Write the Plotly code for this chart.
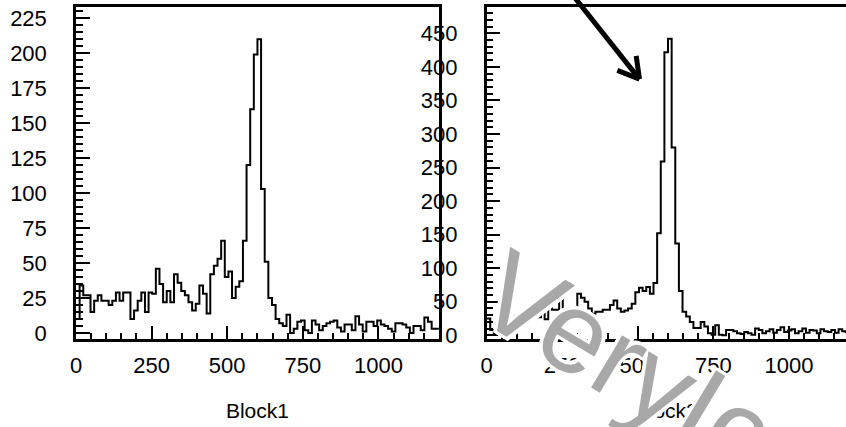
import plotly.graph_objects as go

# Histogram contents: 100 bins of width 12 over [0, 1200]
bin_width = 12
n_bins = 100
block1_counts = [
    10, 34, 27, 27, 15, 23, 27, 23, 23, 20,
    23, 29, 23, 29, 29, 10, 16, 23, 29, 15,
    29, 28, 46, 35, 22, 30, 22, 42, 36, 30,
    27, 22, 16, 21, 34, 28, 14, 42, 48, 53,
    66, 40, 44, 25, 33, 37, 66, 120, 160, 199,
    210, 103, 51, 25, 20, 10, 7, 5, 13, 0,
    3, 8, 9, 2, 0, 9, 6, 2, 5, 7,
    8, 9, 4, 1, 6, 6, 2, 12, 6, 1,
    8, 8, 5, 9, 6, 5, 3, 1, 7, 7,
    6, 4, 0, 5, 5, 2, 11, 8, 3, 3,
]
block2_counts = [
    25, 8, 3, 20, 28, 35, 30, 28, 30, 33,
    32, 33, 35, 35, 27, 40, 24, 47, 38, 38,
    57, 20, 30, 28, 40, 62, 56, 50, 40, 32,
    35, 35, 38, 38, 45, 52, 40, 35, 37, 40,
    47, 64, 71, 66, 72, 62, 78, 152, 259, 422,
    442, 280, 137, 66, 35, 28, 20, 11, 11, 20,
    13, 3, 1, 15, 1, 0, 8, 8, 6, 3,
    2, 5, 3, 1, 10, 8, 3, 6, 9, 4,
    8, 12, 5, 7, 9, 3, 6, 10, 4, 8,
    7, 3, 9, 6, 5, 8, 4, 9, 6, 5,
]
x_tick_values = [0, 250, 500, 750, 1000]
block1_y_ticks = [0, 25, 50, 75, 100, 125, 150, 175, 200, 225]
block2_y_ticks = [0, 50, 100, 150, 200, 250, 300, 350, 400, 450]
panel_titles = ["Block1", "Block2"]
watermark_text = "VeryIcon"

W, H = 846, 427
edges = [i * bin_width for i in range(n_bins + 1)]


def step_trace(counts, xa, ya):
    return go.Scatter(
        x=edges, y=counts + [counts[-1]],
        mode="lines", line=dict(shape="hv", color="black", width=2),
        xaxis=xa, yaxis=ya, hoverinfo="skip", showlegend=False,
    )


fig = go.Figure()
fig.add_trace(step_trace(block1_counts, "x", "y"))
fig.add_trace(step_trace(block2_counts, "x2", "y2"))

FONT = "Liberation Sans, Arial, sans-serif"
tick_font = dict(family=FONT, size=22, color="black")
title_font = dict(family=FONT, size=21, color="black")
axis_common = dict(
    showline=True, linecolor="black", linewidth=2.5,
    ticks="inside", tickcolor="black", tickwidth=2,
    showgrid=False, zeroline=False, tickfont=tick_font,
)
x_minor = dict(ticks="inside", dtick=50, ticklen=6, tickwidth=2, tickcolor="black")


def px_x(p):
    return p / W


def px_y(p):
    return 1 - p / H


fig.update_layout(
    width=W, height=H,
    margin=dict(l=0, r=0, t=0, b=0),
    paper_bgcolor="white", plot_bgcolor="white",
    xaxis=dict(
        **axis_common, domain=[px_x(70.5), px_x(436)], range=[0, 1200],
        anchor="y", mirror=True, tickvals=x_tick_values, ticklen=13,
        minor=x_minor, ticklabelstandoff=5,
        title=dict(text=panel_titles[0], font=title_font, standoff=27),
    ),
    yaxis=dict(
        **axis_common, domain=[px_y(345.7), px_y(6)], range=[-4, 233.1],
        anchor="x", mirror=True, tickvals=block1_y_ticks, ticklen=14,
        minor=dict(ticks="inside", dtick=5, ticklen=7, tickwidth=2, tickcolor="black"),
        ticklabelstandoff=22,
    ),
    xaxis2=dict(
        **axis_common, domain=[px_x(484), 1.0], range=[0, 1188.5],
        anchor="y2", mirror=True, tickvals=x_tick_values, ticklen=13,
        minor=x_minor, ticklabelstandoff=5,
        title=dict(text=panel_titles[1], font=title_font, standoff=27),
    ),
    yaxis2=dict(
        **axis_common, domain=[px_y(345.7), px_y(6)], range=[-4.9, 489.5],
        anchor="x2", mirror=False, tickvals=block2_y_ticks, ticklen=14,
        minor=dict(ticks="inside", dtick=10, ticklen=7, tickwidth=2, tickcolor="black"),
        ticklabelstandoff=22,
    ),
)

# Arrow pointing at the Block2 peak
tip = (638, 80)
tail = (556, -25)
wing_a = (634.7, 56.2)
wing_b = (615.7, 71.0)
for a, b in [(tail, tip), (wing_a, tip), (wing_b, tip)]:
    fig.add_shape(
        type="line", xref="paper", yref="paper",
        x0=px_x(a[0]), y0=px_y(a[1]), x1=px_x(b[0]), y1=px_y(b[1]),
        line=dict(color="black", width=5),
    )

outline = ", ".join(
    f"{dx}px {dy}px 0 #fff" for dx in (-3, 0, 3) for dy in (-3, 0, 3) if (dx, dy) != (0, 0)
)
fig.add_annotation(
    text=watermark_text, xref="paper", yref="paper",
    x=px_x(680), y=px_y(403), xanchor="center", yanchor="middle",
    showarrow=False, textangle=31,
    font=dict(family=FONT, size=115, color="#a8a8a8", shadow=outline),
)

fig.write_html("out.html")
